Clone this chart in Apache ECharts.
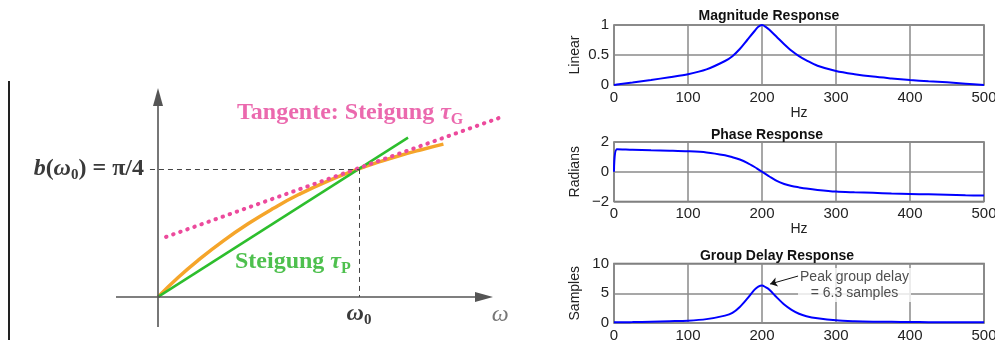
<!DOCTYPE html>
<html>
<head>
<meta charset="utf-8">
<title>Phasen- und Gruppenlaufzeit</title>
<script src="https://cdn.jsdelivr.net/npm/echarts/dist/echarts.min.js"></script>
<style>
  html, body { margin: 0; padding: 0; background: #fff; }
  #chart { width: 995px; height: 340px; }
</style>
</head>
<body>
<div id="chart"></div>
<script>
// left sketch: omega in units of w0, b in radians
var curveW = [0, 0.1, 0.2, 0.325, 0.45, 0.575, 0.7, 0.85, 1.0, 1.1, 1.2, 1.31, 1.42];
var curveB = [0, 0.119, 0.225, 0.344, 0.45, 0.544, 0.628, 0.714, 0.786, 0.828, 0.866, 0.903, 0.937];
var secantW = [0, 1.244];
var secantB = [0, 0.977];
var tangentW = [0.04, 1.711];
var tangentB = [0.368, 1.104];
var w0 = 1.0;
var b0 = 0.785; // pi/4

// right plots (frequency in Hz)
var freq = [0, 4, 25, 50, 75, 100, 125, 150, 160, 170, 180, 190, 195, 200, 205, 210,
  220, 230, 240, 250, 260, 275, 300, 325, 350, 375, 400, 425, 450, 475, 500];
var magnitude = [0, 0.007, 0.04, 0.083, 0.13, 0.18, 0.26, 0.40, 0.48, 0.6, 0.75, 0.9, 0.97, 1.0, 0.97, 0.92,
  0.8, 0.68, 0.57, 0.48, 0.41, 0.32, 0.233, 0.18, 0.14, 0.11, 0.083, 0.062, 0.044, 0.022, 0];
var phase = [0, 1.51, 1.48, 1.45, 1.42, 1.38, 1.3, 1.11, 0.98, 0.82, 0.6, 0.32, 0.16, 0, -0.16, -0.32,
  -0.62, -0.82, -0.96, -1.05, -1.13, -1.22, -1.33, -1.38, -1.42, -1.46, -1.49, -1.52, -1.55, -1.58, -1.6];
var groupDelay = [0.11, 0.11, 0.15, 0.22, 0.3, 0.39, 0.65, 1.24, 1.7, 2.7, 4.1, 5.6, 6.1, 6.3, 6.0, 5.6,
  4.3, 3.1, 2.2, 1.55, 1.15, 0.8, 0.45, 0.3, 0.22, 0.19, 0.17, 0.14, 0.12, 0.11, 0.11];
var peakDelay = 6.3;

var freqTicks = [0, 100, 200, 300, 400, 500];
var magTicks = [0, 0.5, 1];
var phaseTicks = [-2, 0, 2];
var delayTicks = [0, 5, 10];

function pairs(xs, ys) {
  return xs.map(function (x, i) { return [x, ys[i]]; });
}

var serif = 'Liberation Serif';
var sans = 'Liberation Sans';

var chart = echarts.init(document.getElementById('chart'));

var plotGrid = { left: 614, width: 370, show: true, borderColor: '#666', borderWidth: 1.5, outerBoundsMode: 'none' };

function freqAxis(gi) {
  return {
    type: 'value', gridIndex: gi,
    min: freqTicks[0], max: freqTicks[freqTicks.length - 1], interval: freqTicks[1] - freqTicks[0],
    name: 'Hz', nameLocation: 'middle', nameGap: 11,
    nameTextStyle: { color: '#222', fontSize: 14, fontFamily: sans },
    axisLine: { show: false }, axisTick: { show: false },
    axisLabel: { margin: 5, color: '#222', fontSize: 15, fontFamily: sans },
    splitLine: { lineStyle: { color: '#8a8a8a', width: 1.5 } }
  };
}

function levelAxis(gi, ticks, name) {
  return {
    type: 'value', gridIndex: gi,
    min: ticks[0], max: ticks[ticks.length - 1], interval: ticks[1] - ticks[0],
    name: name, nameLocation: 'middle', nameGap: 32,
    nameTextStyle: { color: '#222', fontSize: 14, fontFamily: sans },
    axisLine: { show: false }, axisTick: { show: false },
    axisLabel: {
      margin: 5, color: '#222', fontSize: 15, fontFamily: sans,
      formatter: function (v) { return String(v).replace('-', '\u2212'); }
    },
    splitLine: { lineStyle: { color: '#8a8a8a', width: 1.5 } }
  };
}

var hidden = { axisLine: { show: false }, axisTick: { show: false }, axisLabel: { show: false }, splitLine: { show: false } };

var mathRich = {
  it: { fontFamily: serif, fontStyle: 'italic', fontWeight: 'bold', fontSize: 24, color: '#3a3a3a' },
  n: { fontFamily: serif, fontWeight: 'bold', fontSize: 24, color: '#3a3a3a' },
  sub: { fontFamily: serif, fontWeight: 'bold', fontSize: 15, color: '#3a3a3a', padding: [13, 0, 0, 0] }
};

function noteRich(color) {
  return {
    t: { fontFamily: serif, fontWeight: 'bold', fontSize: 24, color: color },
    tau: { fontFamily: serif, fontStyle: 'italic', fontWeight: 'bold', fontSize: 24, color: color },
    s: { fontFamily: serif, fontWeight: 'bold', fontSize: 16, color: color, padding: [14, 0, 0, 0] }
  };
}

var option = {
  animation: false,
  backgroundColor: '#fff',
  title: [
    { text: 'Magnitude Response', left: 764, top: 4, textAlign: 'center',
      textStyle: { fontFamily: sans, fontSize: 14, fontWeight: 'bold', color: '#111' } },
    { text: 'Phase Response', left: 762, top: 123, textAlign: 'center',
      textStyle: { fontFamily: sans, fontSize: 14, fontWeight: 'bold', color: '#111' } },
    { text: 'Group Delay Response', left: 772, top: 244, textAlign: 'center',
      textStyle: { fontFamily: sans, fontSize: 14, fontWeight: 'bold', color: '#111' } }
  ],
  graphic: [
    { type: 'line', shape: { x1: 9, y1: 81, x2: 9, y2: 340 }, style: { stroke: '#222', lineWidth: 2 } }
  ],
  grid: [
    { left: 107.75, top: 85, width: 412.05, height: 244.5, show: false, outerBoundsMode: 'none' },
    Object.assign({ top: 25, height: 60 }, plotGrid),
    Object.assign({ top: 142, height: 59.5 }, plotGrid),
    Object.assign({ top: 263.5, height: 59.5 }, plotGrid)
  ],
  xAxis: [
    Object.assign({ type: 'value', gridIndex: 0, min: -0.25, max: 1.8 }, hidden),
    freqAxis(1), freqAxis(2), freqAxis(3)
  ],
  yAxis: [
    Object.assign({ type: 'value', gridIndex: 0, min: -0.2, max: 1.3 }, hidden),
    levelAxis(1, magTicks, 'Linear'),
    levelAxis(2, phaseTicks, 'Radians'),
    levelAxis(3, delayTicks, 'Samples')
  ],
  series: [
    // sketch axes with arrow heads
    {
      type: 'line', xAxisIndex: 0, yAxisIndex: 0, data: [[0, 0]], showSymbol: false, silent: true,
      lineStyle: { opacity: 0 },
      markLine: {
        silent: true, symbol: ['none', 'triangle'], symbolSize: [10, 18],
        lineStyle: { color: '#555', width: 1.6, type: 'solid' }, label: { show: false },
        data: [
          [{ coord: [-0.209, 0] }, { coord: [1.622, 0] }],
          [{ coord: [0, -0.184] }, { coord: [0, 1.227] }]
        ]
      }
    },
    // dashed guides at w0 / b(w0)
    {
      type: 'line', xAxisIndex: 0, yAxisIndex: 0, data: [[0, 0]], showSymbol: false, silent: true,
      lineStyle: { opacity: 0 },
      markLine: {
        silent: true, symbol: 'none',
        lineStyle: { color: '#444', width: 1, type: [5, 4] },
        data: [
          [{
            coord: [-0.04, b0],
            label: { show: true, position: 'start', distance: 6,
              formatter: '{it|b}{n|(}{it|ω}{sub|0}{n|) = π/4}', rich: mathRich }
          }, { coord: [w0, b0] }],
          [{
            coord: [w0, b0],
            label: { show: true, position: 'end', distance: 3,
              formatter: '{it|ω}{sub|0}', rich: mathRich }
          }, { coord: [w0, 0] }]
        ]
      }
    },
    {
      name: 'b(ω)', type: 'line', xAxisIndex: 0, yAxisIndex: 0, data: pairs(curveW, curveB),
      smooth: true, showSymbol: false, lineStyle: { color: '#f5a52a', width: 3.5 }
    },
    {
      name: 'Steigung τP', type: 'line', xAxisIndex: 0, yAxisIndex: 0, data: pairs(secantW, secantB),
      showSymbol: false, lineStyle: { color: '#2dbe2d', width: 2.5 }
    },
    {
      name: 'Tangente', type: 'line', xAxisIndex: 0, yAxisIndex: 0, data: pairs(tangentW, tangentB),
      showSymbol: false, lineStyle: { color: '#ec4a9c', width: 4, type: [0.5, 7], cap: 'round' }
    },
    // sketch annotations
    {
      type: 'scatter', xAxisIndex: 0, yAxisIndex: 0, symbolSize: 0, silent: true,
      label: { show: true, position: 'right', distance: 0 },
      data: [
        { value: [0.393, 1.129], label: {
            formatter: '{t|Tangente: Steigung }{tau|τ}{s|G}', rich: noteRich('#e6449a') } },
        { value: [0.383, 0.215], label: {
            formatter: '{t|Steigung }{tau|τ}{s|P}', rich: noteRich('#22b022') } },
        { value: [1.66, -0.11], label: {
            formatter: '{w|ω}',
            rich: { w: { fontFamily: serif, fontStyle: 'italic', fontSize: 24, color: '#555' } } } }
      ]
    },
    // right side responses
    {
      name: 'Magnitude', type: 'line', xAxisIndex: 1, yAxisIndex: 1, data: pairs(freq, magnitude),
      smooth: 0.3, showSymbol: false, lineStyle: { color: '#0000ff', width: 2 }
    },
    {
      name: 'Phase', type: 'line', xAxisIndex: 2, yAxisIndex: 2, data: pairs(freq, phase),
      smooth: 0.3, showSymbol: false, lineStyle: { color: '#0000ff', width: 2 }
    },
    {
      name: 'Group delay', type: 'line', xAxisIndex: 3, yAxisIndex: 3, data: pairs(freq, groupDelay),
      smooth: 0.3, showSymbol: false, lineStyle: { color: '#0000ff', width: 2 },
      markLine: {
        silent: true, symbol: ['none', 'arrow'], symbolSize: 7,
        lineStyle: { color: '#111', width: 1, type: 'solid' }, label: { show: false },
        data: [[{ coord: [249, 7.9] }, { coord: [211, 6.55] }]]
      }
    },
    {
      type: 'scatter', xAxisIndex: 3, yAxisIndex: 3, symbolSize: 0, silent: true, z: 5,
      data: [[325, 6.4]],
      label: {
        show: true, position: 'inside', align: 'center', verticalAlign: 'middle',
        formatter: 'Peak group delay\n= ' + peakDelay + ' samples',
        backgroundColor: '#fff', padding: [1, 2],
        fontFamily: sans, fontSize: 14, lineHeight: 16, color: '#222'
      }
    }
  ]
};

chart.setOption(option);
</script>
</body>
</html>
